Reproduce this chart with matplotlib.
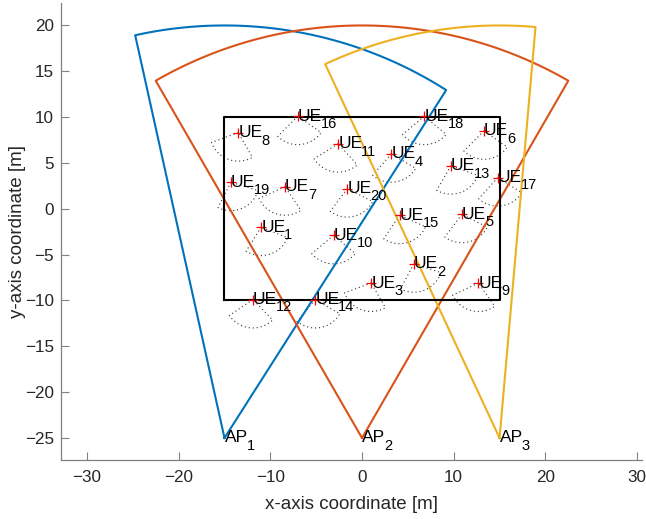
import numpy as np
import matplotlib
matplotlib.use("Agg")
import matplotlib.pyplot as plt

plt.rcParams['font.family'] = ['Liberation Sans', 'DejaVu Sans']

# access points: position, coverage radius, sector limits (deg)
ap_x = [-15, 0, 15]
ap_y = [-25, -25, -25]
ap_radius = [45, 45, 45]
ap_ang_lo = [57.5, 60, 85]
ap_ang_hi = [102.5, 120, 115]
ap_colors = ['#0072BD', '#D95319', '#EDB120']

# user equipments
ue_x = [-11.0, 5.65, 1.0, 3.2, 10.9, 13.3, -8.4, -13.5, 12.7, -3.1,
        -2.6, -11.9, 9.7, -5.1, 4.1, -7.0, 14.8, 6.8, -14.3, -1.6]
ue_y = [-2.0, -6.0, -8.1, 6.0, -0.6, 8.5, 2.4, 8.3, -8.1, -2.9,
        7.1, -9.9, 4.7, -9.9, -0.7, 10.1, 3.4, 10.1, 2.9, 2.2]
# UE antenna orientation (deg), beam width and range
ue_dir = [288, 292, 250, 279, 283, 275, 254, 250, 255, 270,
          262, 264, 290, 280, 286, 275, 278, 270, 293, 283]
ue_width = 100
ue_radius = 3.1

# deployment area
area_x = [-15, 15]
area_y = [-10, 10]


def sector(cx, cy, r, a0, a1):
    t = np.radians(np.linspace(a0, a1, 80))
    xs = np.concatenate([[cx], cx + r * np.cos(t), [cx]])
    ys = np.concatenate([[cy], cy + r * np.sin(t), [cy]])
    return xs, ys


def label(ax, x, y, name, idx):
    # matlab-like subscript: big base text, number hanging below baseline
    t = ax.text(x, y, name, fontsize=12.5, ha='left', va='center', zorder=4)
    ax.annotate(str(idx), xy=(1, 0), xycoords=t, xytext=(-0.8, -0.2),
                textcoords='offset points', fontsize=10.5,
                ha='left', va='center', zorder=4)


fig = plt.figure(figsize=(6.46, 5.19), dpi=100)
ax = fig.add_axes([0.094, 0.1137, 0.9, 0.8805])

for i in range(len(ap_x)):
    xs, ys = sector(ap_x[i], ap_y[i], ap_radius[i], ap_ang_lo[i], ap_ang_hi[i])
    ax.plot(xs, ys, color=ap_colors[i], lw=1.5, zorder=2)

ax.plot([area_x[0], area_x[1], area_x[1], area_x[0], area_x[0]],
        [area_y[0], area_y[0], area_y[1], area_y[1], area_y[0]],
        color='black', lw=1.5, zorder=2)

for i in range(len(ue_x)):
    xs, ys = sector(ue_x[i], ue_y[i], ue_radius,
                    ue_dir[i] - ue_width / 2, ue_dir[i] + ue_width / 2)
    ax.plot(xs, ys, color='#333333', lw=0.8, ls=(0, (1, 2.6)), zorder=1)

ax.plot(ue_x, ue_y, '+', color='red', ms=7.5, mew=0.9, zorder=3)

for i in range(len(ue_x)):
    label(ax, ue_x[i], ue_y[i], 'UE', i + 1)
for i in range(len(ap_x)):
    label(ax, ap_x[i], ap_y[i], 'AP', i + 1)

ax.set_xlim(-32.86, 30.55)
ax.set_ylim(-27.4, 22.45)
ax.set_xticks(np.arange(-30, 31, 10))
ax.set_yticks(np.arange(-25, 21, 5))

for s in ['top', 'right']:
    ax.spines[s].set_visible(False)
for s in ['left', 'bottom']:
    ax.spines[s].set_color('#808080')
    ax.spines[s].set_linewidth(0.9)
ax.tick_params(direction='in', length=6, width=0.8, color='#808080',
               labelsize=12.3, labelcolor='#262626')
ax.tick_params(axis='x', pad=7)
ax.tick_params(axis='y', pad=5)

ax.set_xlabel('x-axis coordinate [m]', fontsize=13.5, color='#262626',
              labelpad=8)
ax.set_ylabel('y-axis coordinate [m]', fontsize=13.5, color='#262626',
              labelpad=-1)

fig.savefig('out.png', dpi=100)
